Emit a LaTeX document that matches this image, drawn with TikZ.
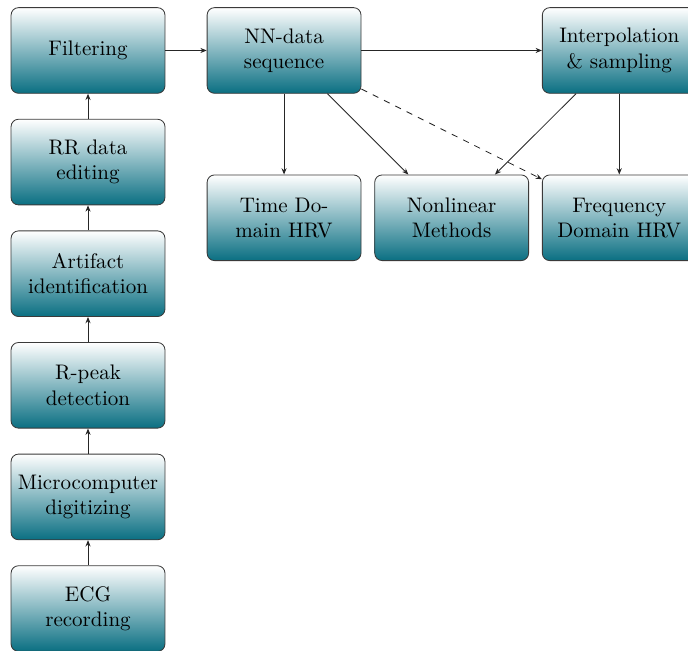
\documentclass[tikz,border=0pt]{standalone}
\usepackage{xcolor}
\usepackage{tikz}
\usetikzlibrary{
  arrows.meta,
  positioning,
  calc
}
\definecolor{hrvTeal}{HTML}{0A6F82}
\definecolor{hrvEdge}{HTML}{3A3A3A}
\tikzset{
  hrvbox/.style={
    draw=hrvEdge, rounded corners=3.5pt, minimum height=14.3mm, minimum width=25.7mm,
    align=center, top color=white, bottom color=hrvTeal, inner sep=1pt
  },
  hrvflow/.style={-{Stealth[length=3pt, width=2.4pt]}, black!85},
  hrvside/.style={hrvflow, dashed}
}
\begin{document}
\begin{tikzpicture}[node distance=4.2mm and 7mm]
  \clip (-1.470,0.843) rectangle (10.02,-10.028);
  % processing chain, bottom up
  \node[hrvbox] (filter) at (0,0) {Filtering};
  \node[hrvbox, below=of filter] (rredit) {RR data\\editing};
  \node[hrvbox, below=of rredit] (artifact) {Artifact\\identification};
  \node[hrvbox, below=of artifact] (rpeak) {R-peak\\detection};
  \node[hrvbox, below=of rpeak] (digit) {Microcomputer\\digitizing};
  \node[hrvbox, below=of digit] (ecg) {ECG\\recording};
  % analysis
  \node[hrvbox, right=6.9mm of filter] (nn) {NN-data\\sequence};
  \node[hrvbox, below=13.5mm of nn] (timedom) {Time Do-\\main HRV};
  \node[hrvbox, right=2.15mm of timedom] (nonlin) {Nonlinear\\Methods};
  \node[hrvbox, right=2.15mm of nonlin] (freqdom) {Frequency\\Domain HRV};
  \node[hrvbox, above=13.5mm of freqdom] (interp) {Interpolation\\\& sampling};
  \draw[hrvflow] (ecg) -- (digit);
  \draw[hrvflow] (digit) -- (rpeak);
  \draw[hrvflow] (rpeak) -- (artifact);
  \draw[hrvflow] (artifact) -- (rredit);
  \draw[hrvflow] (rredit) -- (filter);
  \draw[hrvflow] (filter) -- (nn);
  \draw[hrvflow] (nn) -- (interp);
  \draw[hrvflow] (nn) -- (timedom);
  \draw[hrvflow] (nn) -- (nonlin);
  \draw[hrvside] (nn) -- (freqdom);
  \draw[hrvflow] (interp) -- (nonlin);
  \draw[hrvflow] (interp) -- (freqdom);
\end{tikzpicture}
\end{document}
